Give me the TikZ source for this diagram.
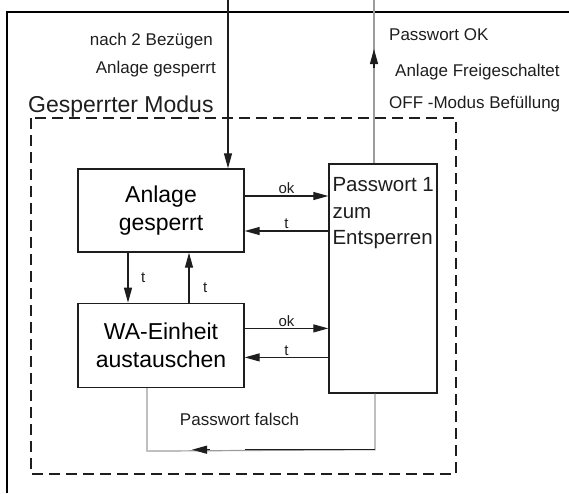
\documentclass[tikz,border=0pt]{standalone}
\usepackage{fontspec}
\setmainfont{Liberation Sans}
\usetikzlibrary{arrows.meta,positioning,calc}
\definecolor{lnDark}{HTML}{1E1E1E}
\definecolor{lnGray}{HTML}{9C9C9C}

\begin{document}
\begin{tikzpicture}[x=1pt,y=-1pt,>={Triangle[length=15pt,width=8pt]},
  blk/.style={draw=lnDark,line width=1.4pt,fill=white,minimum width=166pt,align=center,
    inner sep=0pt,font=\fontsize{23}{28}\selectfont},
  lbl/.style={font=\fontsize{17}{20}\selectfont,inner sep=0pt,text=lnDark},
  tag/.style={font=\fontsize{15}{17}\selectfont,inner sep=1.5pt,text=lnDark},
  flow/.style={->,draw=lnDark,line width=1.2pt}]
  \useasboundingbox (0,0) rectangle (569,493);
  % frame, cut off by the page on the right and at the bottom
  \draw[line width=2.2pt] (7,493) -- (7,12) -- (569,12);
  % locked mode area
  \draw[lnDark,line width=1.6pt,dash pattern=on 11pt off 6pt] (31,118) rectangle (456,474);
  \node[lbl,anchor=base west,font=\fontsize{23}{27}\selectfont] (modus) at (28,112) {Gesperrter Modus};

  % states
  \node[blk,minimum height=83pt] (ga) at (161,210.5) {Anlage\\gesperrt};
  \node[blk,minimum height=84pt,below=50pt of ga] (wa) {WA-Einheit\\austauschen};
  \node[draw=lnDark,line width=1.4pt,minimum width=108pt,minimum height=229pt] (pw) at (383,278.5) {};
  \node[anchor=north west,align=left,inner sep=0pt,text=lnDark,font=\fontsize{20.5}{26.5}\selectfont]
    (pwtxt) at ($(pw.north west)+(4,14)$) {Passwort 1\\zum\\Entsperren};

  % notes above the area
  \node[lbl,anchor=base east] (n1) at (213,45) {nach 2 Bezügen};
  \node[lbl,anchor=base east] (n2) at (216,73) {Anlage gesperrt};
  \foreach \txt/\xx/\yy [count=\i] in {Passwort OK/389/40.5,Anlage Freigeschaltet/395/76,OFF -Modus Befüllung/389/108}
    \node[lbl,anchor=base west] (rel\i) at (\xx,\yy) {\txt};

  % entry and exit
  \coordinate (feedIn) at (228,0);
  \draw[flow] (feedIn) -- (feedIn |- ga.north);
  \coordinate (okOut) at (374,0);
  \draw[lnGray,line width=1.2pt] (okOut |- pw.north) -- (okOut);
  \draw[flow] ($(okOut)+(0,68)$) -- ($(okOut)+(0,49)$);

  % ga <-> pw
  \draw[flow] ($(ga.east)+(0,-14.5)$) coordinate (okA) -- node[tag,above]{ok} (okA -| pw.west);
  \coordinate (tA) at ($(ga.east)+(0,20.5)$);
  \draw[flow] (tA -| pw.west) -- node[tag,above]{t} (tA);
  % wa <-> pw
  \draw[flow] ($(wa.east)+(0,-17)$) coordinate (okB) -- node[tag,above]{ok} (okB -| pw.west);
  \coordinate (tB) at ($(wa.east)+(0,12)$);
  \draw[flow] (tB -| pw.west) -- node[tag,above]{t} (tB);
  % ga <-> wa
  \coordinate (dn) at ($(ga.south)+(-33,0)$);
  \draw[flow] (dn) -- node[tag,right=11pt]{t} (dn |- wa.north);
  \coordinate (up) at ($(ga.south)+(28,0)$);
  \draw[flow] (up |- wa.north) -- node[tag,pos=0.3,right=12pt]{t} (up);

  % wrong password loop
  \coordinate (fL) at ($(wa.south)+(-14,63)$);
  \coordinate (fR) at ($(pw.south)+(-8,56)$);
  \draw[lnGray,line width=1.2pt] (fL |- wa.south) -- (fL) -- (fR) -- (fR |- pw.south);
  \draw[lnDark,line width=1.2pt] (fR) -- ($(fR)+(-130,0)$);
  \draw[flow] ($(fR)+(-165,0)$) -- ($(fR)+(-183,0)$);
  \node[lbl,anchor=base] (falsch) at (239.5,425) {Passwort falsch};
\end{tikzpicture}
\end{document}
